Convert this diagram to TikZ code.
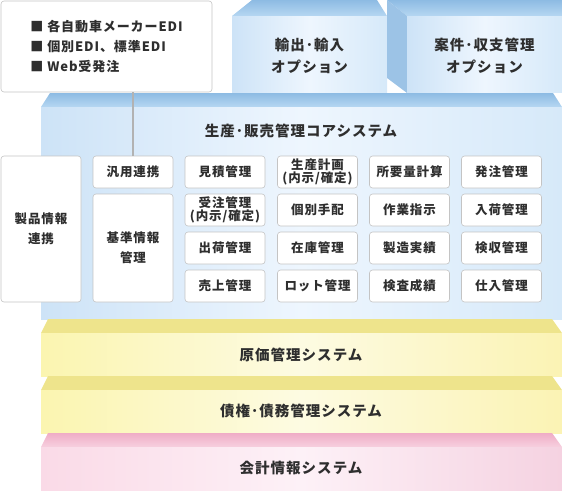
\documentclass[tikz,border=0pt]{standalone}
\usepackage{fontspec}
\setmainfont{Noto Sans CJK JP}[LetterSpace=7]
\usetikzlibrary{calc}

\definecolor{ink}{HTML}{2E2E2E}
\definecolor{cellline}{HTML}{C4C4C4}
\definecolor{linkgray}{HTML}{B2B2B2}
\definecolor{bluetopA}{HTML}{8DBBE3}
\definecolor{bluetopB}{HTML}{B6D7F2}
\definecolor{blueside}{HTML}{9CC3E6}
\definecolor{blueL}{HTML}{CDE3F7}
\definecolor{blueM}{HTML}{EEF6FE}
\definecolor{blueR}{HTML}{D6E9F9}
\definecolor{yeltop}{HTML}{EEE48C}
\definecolor{yelL}{HTML}{FBF5B0}
\definecolor{yelM}{HTML}{FDFBE2}
\definecolor{yelR}{HTML}{FBF3B4}
\definecolor{pinktopA}{HTML}{EFACC6}
\definecolor{pinktopB}{HTML}{F7D0DF}
\definecolor{pinkL}{HTML}{FADAE7}
\definecolor{pinkM}{HTML}{FDF1F7}
\definecolor{pinkR}{HTML}{F5D2E1}

\newcommand\cellfont{\fontsize{12.5}{13}\selectfont\bfseries}
\newcommand\bigcellfont{\fontsize{12.5}{20}\selectfont\bfseries}
\newcommand\ttlfont{\fontsize{14.5}{22}\selectfont\bfseries}
\newcommand\edifont{\fontsize{13}{20}\selectfont\bfseries}

\begin{document}
\begin{tikzpicture}[
    x=1pt, y=-1pt,
    % white function box
    cell/.style={
        rectangle, rounded corners=3pt, draw=cellline, fill=white,
        line width=0.6pt, minimum width=80pt, minimum height=32pt,
        inner sep=0pt, align=center, font=\cellfont, text=ink
    },
    % tall function box
    bigcell/.style={cell, font=\bigcellfont},
    % layer / option titles
    ttl/.style={font=\ttlfont, text=ink, align=center, inner sep=0pt},
    % callout with the EDI list
    callout/.style={
        rectangle, rounded corners=3pt, draw=cellline, fill=white,
        line width=0.6pt, minimum width=211pt, minimum height=91pt,
        align=left, font=\edifont, text=ink
    },
    % grey link line
    link/.style={linkgray, line width=2.8pt},
]
\useasboundingbox (0,0) rectangle (562,490);

% ============================================================
% CORE SLAB (blue)
% ============================================================
\shade[top color=bluetopA, bottom color=bluetopB]
    (50,93) -- (553,93) -- (562,107) -- (41,107) -- cycle;
\shade[left color=blueL, right color=blueR, middle color=blueM]
    (41,107) rectangle (562,319);
\node[ttl] (core) at (301,131) {生産･販売管理コアシステム};

% ============================================================
% OPTION BOXES
% ============================================================
% box 1
\shade[top color=bluetopA, bottom color=bluetopB]
    (252,0) -- (377,0) -- (387,16) -- (232,16) -- cycle;
\shade[left color=blueL, right color=blueR, middle color=blueM]
    (232,16) rectangle (387,92);
\node[ttl] (opt-trade) at (309.5,56) {輸出･輸入\\オプション};

% box 2
\shade[top color=bluetopA, bottom color=bluetopB]
    (387,0) -- (562,0) -- (562,16) -- (407,16) -- cycle;
\fill[blueside] (387,0) -- (407,16) -- (407,93) -- (387,78) -- cycle;
\shade[left color=blueL, right color=blueR, middle color=blueM]
    (407,16) rectangle (562,92);
\node[ttl] (opt-project) at (484.5,56) {案件･収支管理\\オプション};

% ============================================================
% LOWER SLABS
% ============================================================
% cost
\fill[yeltop] (48,319) -- (552,319) -- (562,333) -- (41,333) -- cycle;
\shade[left color=yelL, right color=yelR, middle color=yelM]
    (41,333) rectangle (562,376);
\node[ttl] (cost) at (301,355) {原価管理システム};

% receivables / payables
\fill[yeltop] (48,376) -- (552,376) -- (562,390) -- (41,390) -- cycle;
\shade[left color=yelL, right color=yelR, middle color=yelM]
    (41,390) rectangle (562,433);
\node[ttl] (debt) at (301,411) {債権･債務管理システム};

% accounting
\shade[top color=pinktopA, bottom color=pinktopB]
    (48,433) -- (552,433) -- (562,447) -- (41,447) -- cycle;
\shade[left color=pinkL, right color=pinkR, middle color=pinkM]
    (41,447) rectangle (562,490);
\node[ttl] (acct) at (301,468) {会計情報システム};

% ============================================================
% CALLOUT + LINK
% ============================================================
\node[callout] (edi) at (106.5,46.5)
    {■\ 各自動車メーカーEDI\\■\ 個別EDI、標準EDI\\■\ Web受発注};

% ============================================================
% FUNCTION CELLS
% ============================================================
% Column 1-2
\node[bigcell, minimum height=146pt] (prod)  at ( 41,229) {製品情報\\連携};
\node[cell] (hanyo) at (133,172) {汎用連携};
\node[bigcell, minimum height=108pt] (kijun) at (133,248) {基準情報\\管理};

% Column 3: sales
\node[cell] (mitsu)  at (225,172) {見積管理};
\node[cell] (juchu)  at (225,210) {受注管理\\(内示/確定)};
\node[cell] (shukka) at (225,248) {出荷管理};
\node[cell] (uriage) at (225,286) {売上管理};

% Column 4: planning
\node[cell] (keikaku) at (317.5,172) {生産計画\\(内示/確定)};
\node[cell] (tehai)   at (317.5,210) {個別手配};
\node[cell] (zaiko)   at (317.5,248) {在庫管理};
\node[cell] (lot)     at (317.5,286) {ロット管理};

% Column 5: production
\node[cell] (shoyo)   at (409.5,172) {所要量計算};
\node[cell] (sagyo)   at (409.5,210) {作業指示};
\node[cell] (seizo)   at (409.5,248) {製造実績};
\node[cell] (kensa)   at (409.5,286) {検査成績};

% Column 6: purchasing
\node[cell] (hatchu)  at (501.5,172) {発注管理};
\node[cell] (nyuka)   at (501.5,210) {入荷管理};
\node[cell] (kenshu)  at (501.5,248) {検収管理};
\node[cell] (shiire)  at (501.5,286) {仕入管理};

% link from callout down to 汎用連携
\draw[link] (hanyo.north) -- (hanyo.north |- edi.south);

\end{tikzpicture}
\end{document}
